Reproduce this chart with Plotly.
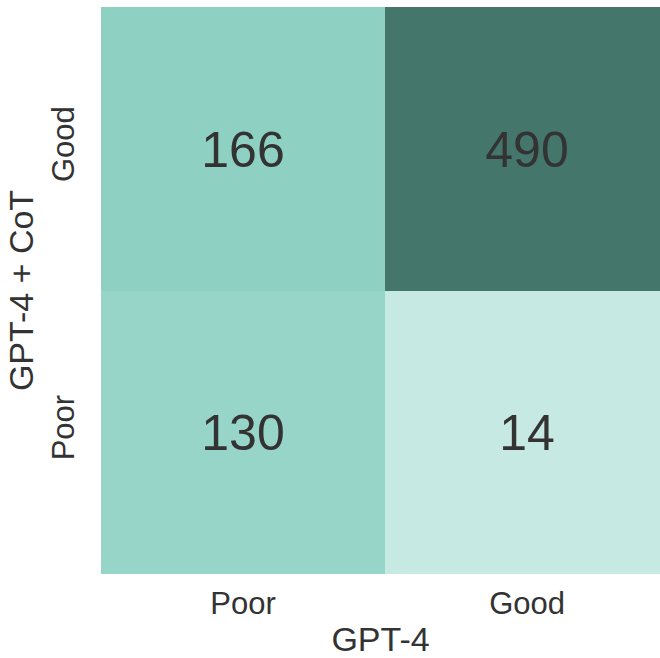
import plotly.graph_objects as go

# Ratings from the two model setups
gpt4_labels = ["Poor", "Good"]          # x categories
gpt4_cot_labels = ["Poor", "Good"]      # y categories, bottom to top
counts_poor_row = [130, 14]             # GPT-4 + CoT = Poor
counts_good_row = [166, 490]            # GPT-4 + CoT = Good

z = [counts_poor_row, counts_good_row]
zmin = min(min(r) for r in z)
zmax = max(max(r) for r in z)


def pos(v):
    return (v - zmin) / (zmax - zmin)


colorscale = [
    [0.0, "#c6e9e3"],
    [pos(130), "#97d5c9"],
    [pos(166), "#8ed1c3"],
    [1.0, "#44766c"],
]

font_family = "Liberation Sans, Arial, Helvetica, sans-serif"
text_color = "#333333"

fig = go.Figure(
    go.Heatmap(
        x=gpt4_labels,
        y=gpt4_cot_labels,
        z=z,
        zmin=zmin,
        zmax=zmax,
        colorscale=colorscale,
        showscale=False,
        texttemplate="%{z}",
        textfont=dict(size=50, color=text_color, family=font_family),
        hoverinfo="skip",
        xgap=0,
        ygap=0,
    )
)

fig.update_layout(
    width=660,
    height=658,
    margin=dict(l=101, r=0, t=7, b=84),
    paper_bgcolor="white",
    plot_bgcolor="white",
    font=dict(family=font_family, color=text_color, size=30),
)

fig.update_xaxes(
    range=[-0.5, 1.468],
    showgrid=False,
    zeroline=False,
    showline=False,
    ticks="",
    ticklabelstandoff=8,
    tickfont=dict(size=31),
    title=dict(text="GPT-4", font=dict(size=34), standoff=9),
)
fig.update_yaxes(
    range=[-0.5, 1.5],
    showgrid=False,
    zeroline=False,
    showline=False,
    ticks="",
    tickangle=-90,
    ticklabelstandoff=20,
    tickfont=dict(size=31),
    title=dict(text="GPT-4 + CoT", font=dict(size=34), standoff=1),
)

fig.write_html("out.html")
